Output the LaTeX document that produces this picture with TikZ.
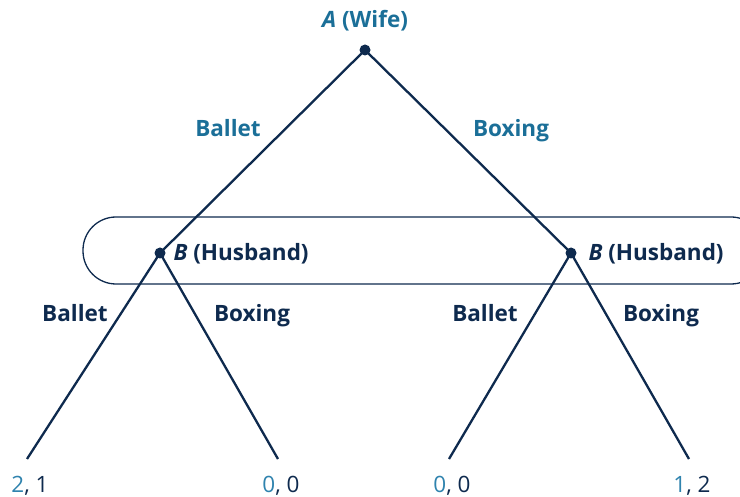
\documentclass[tikz,border=0pt]{standalone}
\usepackage{fontspec}
\setmainfont{Open Sans}
\definecolor{wifeblue}{HTML}{1B6F98}
\definecolor{husbandnavy}{HTML}{0E2A4E}
\definecolor{payblue}{HTML}{2F83AE}
\tikzset{
    dot/.style={circle,fill=husbandnavy,inner sep=0pt,minimum size=11pt},
    branch/.style={draw=husbandnavy,line width=2.3pt},
    wifelabel/.style={font=\fontsize{22.5}{26}\selectfont\bfseries,text=wifeblue,anchor=base},
    husbandlabel/.style={font=\fontsize{22.5}{26}\selectfont\bfseries,text=husbandnavy,anchor=base},
    payoff/.style={font=\fontsize{22.5}{26}\selectfont,text=husbandnavy,anchor=base},
}
\begin{document}
\begin{tikzpicture}[x=1pt,y=-1pt]
    \useasboundingbox (0,0) rectangle (740,497);
    % information set of the husband
    \draw[husbandnavy,line width=1.3pt,rounded corners=33pt] (83,217) rectangle (764,284);
    \node[dot] (A) at (365,50) {};
    \node[wifelabel] (Alabel) at (365,28) {\textit{A} (Wife)};
    \node[dot] (B1) at (160,253) {};
    \node[dot] (B2) at (571,253) {};
    \node[husbandlabel,anchor=base west] (B1label) at (170,261) {\textit{B} (Husband)};
    \node[husbandlabel,anchor=base west] (B2label) at (585,261) {\textit{B} (Husband)};
    \draw[branch] (A.center) -- (B1.center);
    \draw[branch] (A.center) -- (B2.center);
    \node[wifelabel] (Aballet) at (228,137) {Ballet};
    \node[wifelabel] (Aboxing) at (511,137) {Boxing};
    % leaves
    \foreach \name/\x/\y/\from/\first/\second in {L1/27/459/B1/2/1, L2/278/459/B1/0/0, L3/449/459/B2/0/0, L4/689/459/B2/1/2} {
        \coordinate (\name) at (\x,\y);
        \draw[branch] (\from.center) -- (\name);
        \node[payoff] (\name pay) at (\x+3,492) {\textcolor{payblue}{\first}, \second};
    }
    \foreach \name/\x/\txt in {Bballet1/75/Ballet, Bboxing1/252/Boxing, Bballet2/485/Ballet, Bboxing2/661/Boxing} {
        \node[husbandlabel] (\name) at (\x,322) {\txt};
    }
\end{tikzpicture}
\end{document}
